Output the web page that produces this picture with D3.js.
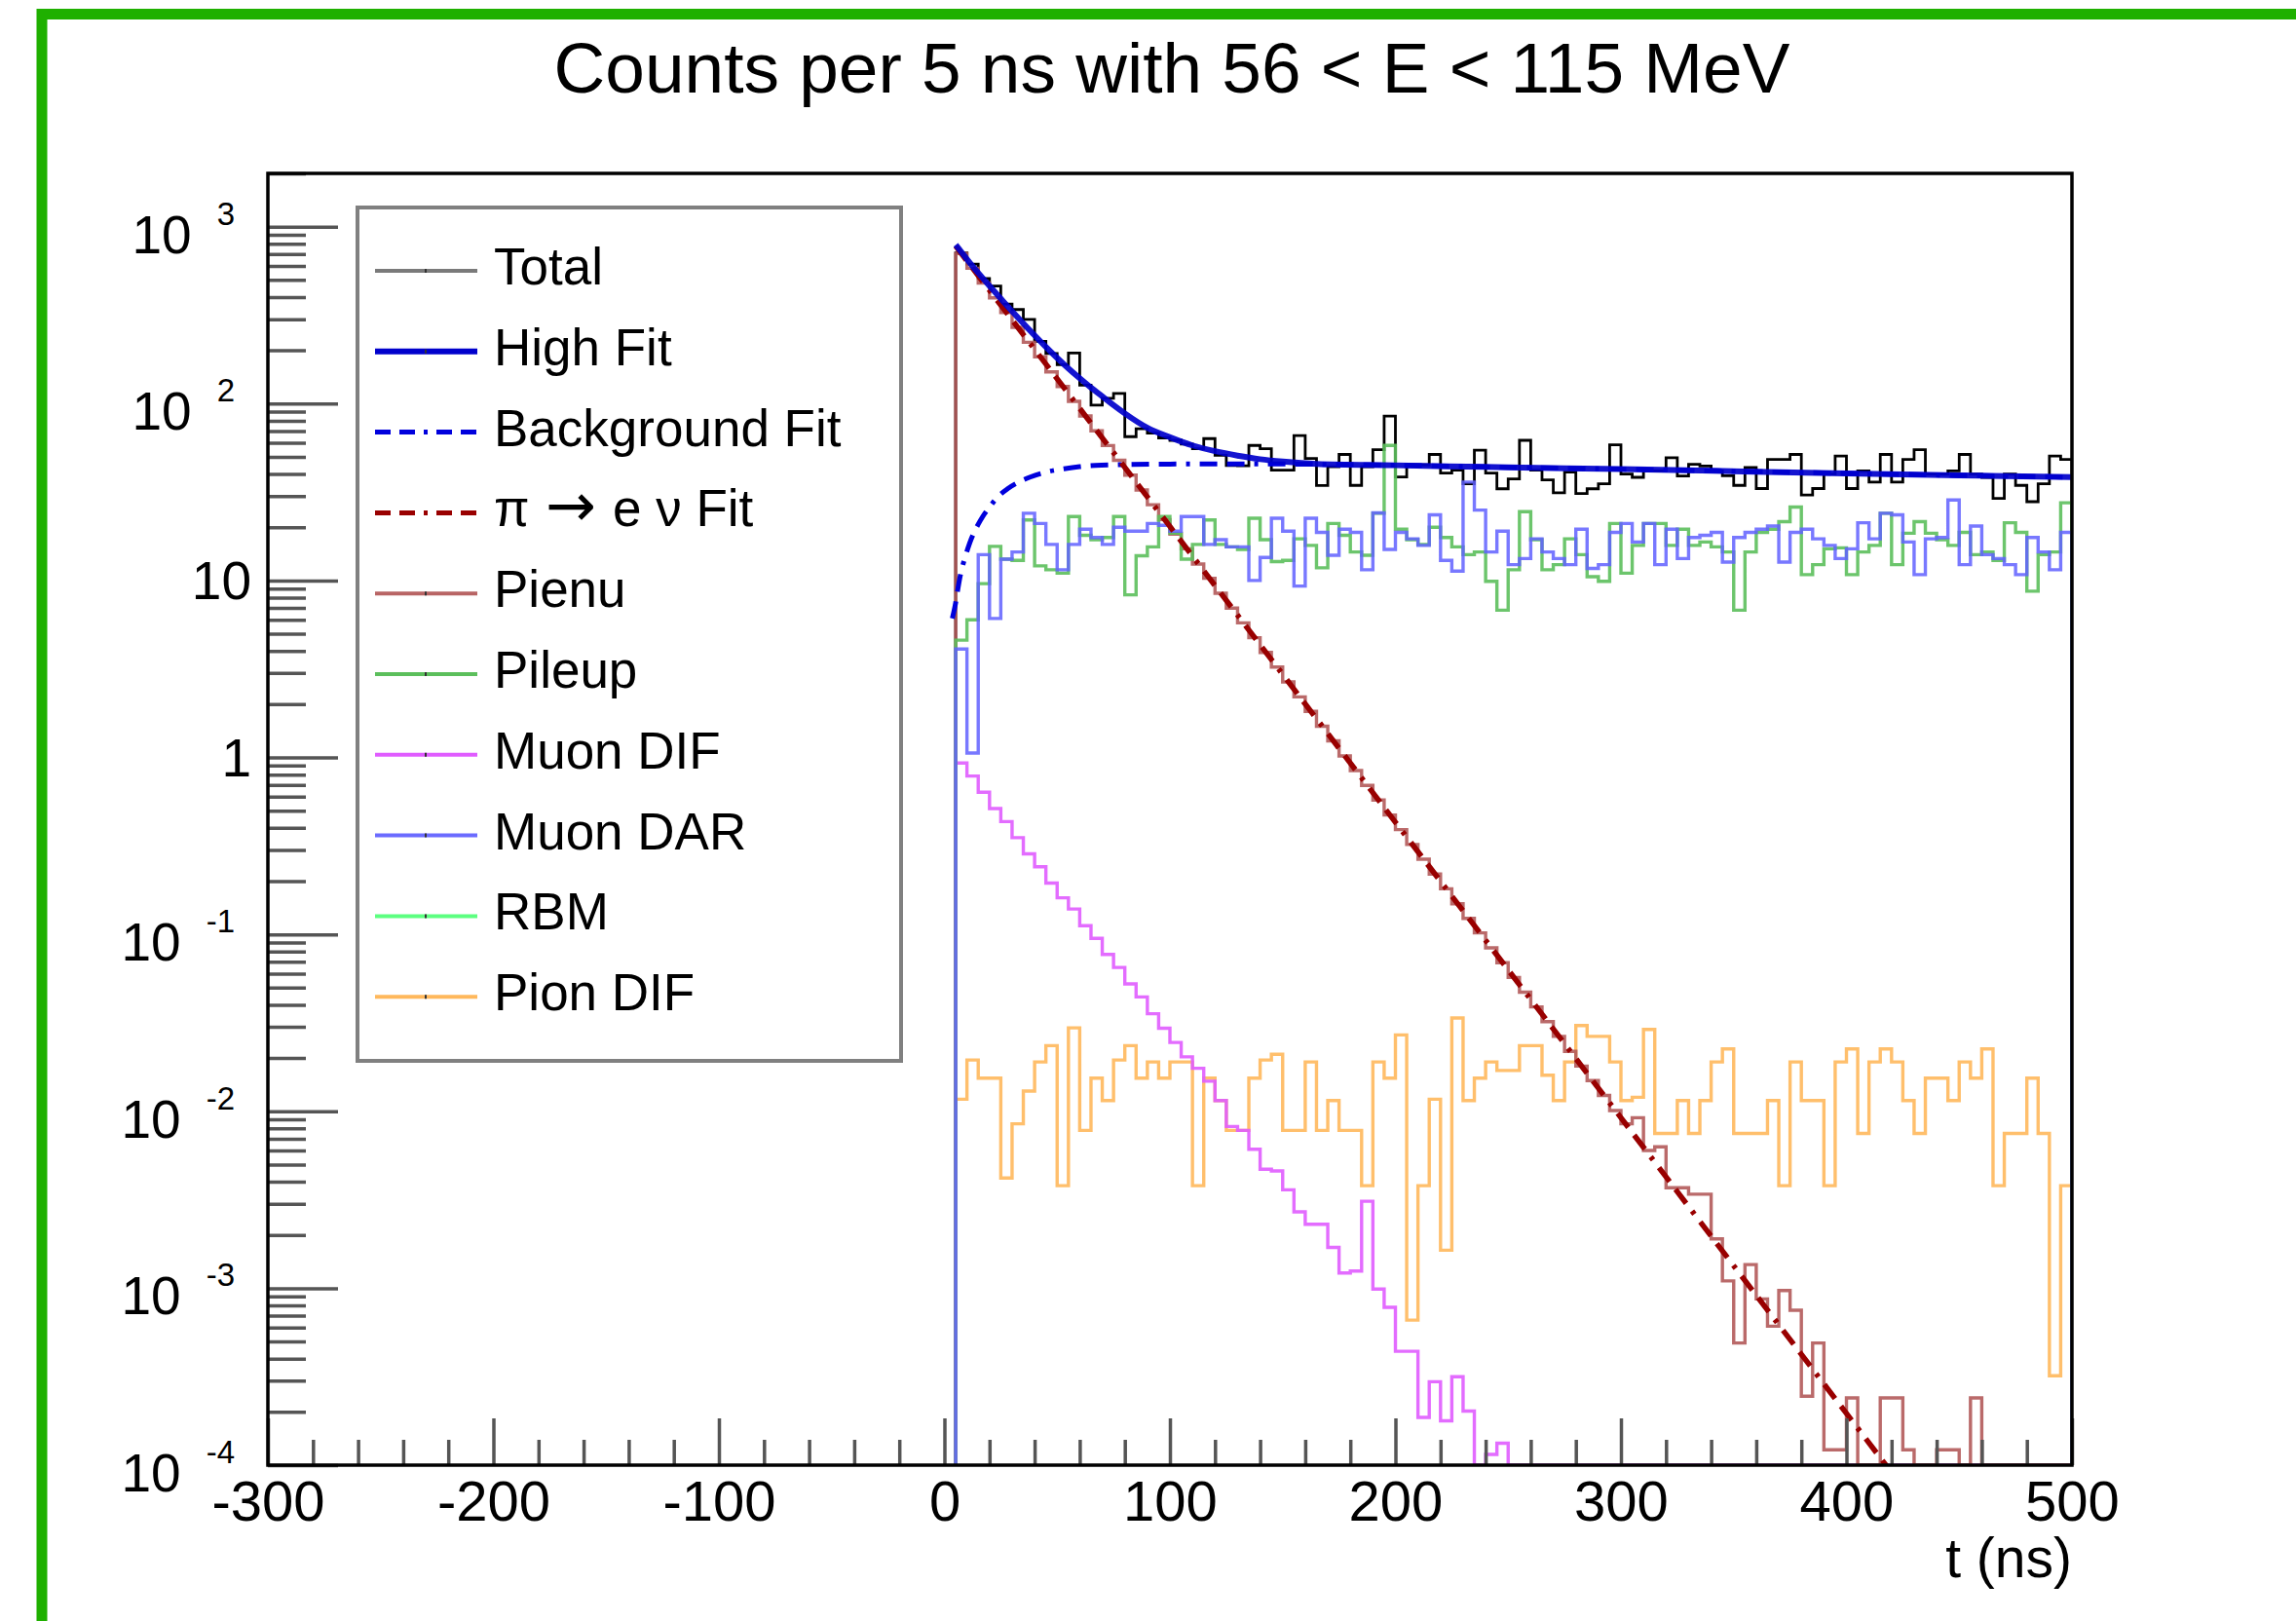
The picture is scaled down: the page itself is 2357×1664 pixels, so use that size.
<!DOCTYPE html>
<html>
<head>
<meta charset="utf-8">
<script src="https://cdn.jsdelivr.net/npm/d3@7/dist/d3.min.js"></script>
<style>
html,body{margin:0;padding:0;background:#ffffff;}
svg{display:block;}
text{font-family:"Liberation Sans",Arial,Helvetica,sans-serif;fill:#000;}
</style>
</head>
<body>
<svg id="chart" width="2357" height="1664"></svg>
<script>
// ---------------- data ----------------
const titleText = "Counts per 5 ns with 56 < E < 115 MeV";
const xAxisTitle = "t (ns)";
const binWidth = 5;
const binLow = d3.range(5, 500, 5);          // lower edges of the 5 ns bins, 5 ... 495
const xMajorTicks = [-300, -200, -100, 0, 100, 200, 300, 400, 500];
const yDecades = [-4, -3, -2, -1, 0, 1, 2, 3];

const totalCounts = [
 710,614,510,462,365,340,299,225,192,166,
 193,127,98,107,114,65,72,68,64,62,
 59,55.6,63.4,51,44.7,44.5,58,55.6,42,42,
 66,49,34.4,44,51.6,34.5,44,54.9,85,38.5,
 45,45,51.6,40.5,42,35.2,54.5,40.5,33,37.5,
 62,42,37,31.3,41,31,33,35.2,58.5,40,
 38.3,41.7,41.7,49.4,39,45.4,44.4,41.7,39.1,34.5,
 43.5,33.1,48.4,48.4,51.6,30.4,33.1,40,50.5,33.1,
 41.7,36,51.6,36,48.4,54.9,40,40,41.7,51.6,
 40,38.3,29.1,40,34.5,27.9,35.2,50.5,48.4];

const pileupCounts = [
 4.6,6.0,9.6,15.6,13.2,13.0,22,12.1,11.5,11.0,
 23,18,17,17.5,23,8.3,13.8,15.5,23,18.5,
 13.2,16,22,16,15.5,15,22.5,17,12.8,13,
 17.2,15.8,11.8,21,18,14.5,13.9,24,58,19.5,
 17,16,20,17.5,15.5,14,14.5,9.9,6.8,11.5,
 24.5,17,11.5,12.3,17.2,14,10.5,9.9,21,11,
 15.8,21,21,15.8,19.5,15.8,16.5,15.5,14.5,6.8,
 14.5,18.7,19.5,21.5,26,10.8,12.3,15.1,15.3,10.8,
 14.5,15.8,24,12.3,18.5,21.5,18.5,17,15.8,18.7,
 14,14.5,13,21.2,18.7,8.7,14,14.5,27.5];

const muonDARCounts = [
 4.1,1.06,14,6.1,13.2,14.5,24,21,16,11.5,
 16,19.5,17.5,16,20,19,19,21,20.5,19,
 23,23,16,17,15.5,15.5,10,13.5,22.5,19,
 9.3,22.5,18.7,13.9,19.5,18.7,11.5,24.1,15,18.7,
 17.2,15.8,23.5,13,11.3,36,25,14.5,19,12.3,
 13.3,17.2,14.5,13.3,12.3,19.5,11.7,12.3,18.7,21,
 16.5,21,12.3,19.5,13.3,17.5,18,18.7,12.7,17.5,
 18.7,19.5,20.3,12.7,18.7,19.5,17.2,15.8,13.3,15.1,
 21.2,17.2,24,23.5,16.5,10.8,17.2,17.5,28.5,12.3,
 20.3,14,13.3,12.3,10.8,17.5,14.5,11.5,18.7];

const muonDIFCounts = [
 0.93,0.785,0.636,0.514,0.434,0.352,0.285,0.241,0.195,0.161,
 0.139,0.112,0.095,0.077,0.065,0.0525,0.0443,0.0356,0.0295,0.0245,
 0.0203,0.0175,0.0148,0.0115,0.0082,0.0078,0.0061,0.0047,0.0046,0.0036,
 0.0027,0.0023,0.0023,0.0017,0.00122,0.00125,0.0031,0.00099,0.00078,0.00044,
 0.00044,0.000186,0.000296,0.000178,0.000316,0.000202,0,0.000115,0.000133,0,
 0,0,0,0,0,0,0,0,0,0,
 0,0,0,0,0,0,0,0,0,0,
 0,0,0,0,0,0,0,0,0,0,
 0,0,0,0,0,0,0,0,0,0,
 0,0,0,0,0,0,0,0,0];

const pienuCounts = [
 705,582,480,396,327,270,222,184,151,125,
 103,85.1,70.2,57.9,47.8,39.4,32.5,26.8,22.1,18.3,
 15.1,12.4,10.3,8.47,6.98,5.76,4.75,3.92,3.24,2.67,
 2.20,1.82,1.50,1.24,1.02,0.843,0.695,0.574,0.473,0.391,
 0.322,0.266,0.219,0.181,0.149,0.123,0.102,0.0839,0.0692,0.0571,
 0.0471,0.0389,0.0321,0.0265,0.0218,0.0180,0.0149,0.0123,0.0101,0.0085,
 0.0092,0.0060,0.0063,0.0037,0.0037,0.0034,0.0034,0.0019,0.0011,0.00049,
 0.00136,0.00087,0.00061,0.00097,0.00075,0.000245,0.00049,0.000122,0.000122,0.00024,
 0,0,0.00024,0.00024,0.000122,0,0,0.000122,0.000122,0,
 0.00024,0,0,0,0,0,0,0,0];

const pionDIFCounts = [
 0.0117,0.0195,0.0154,0.0154,0.0042,0.0085,0.013,0.019,0.0235,0.0038,
 0.0296,0.0078,0.0154,0.0115,0.0195,0.0235,0.0154,0.019,0.0154,0.019,
 0.019,0.0038,0.0154,0.0115,0.0078,0.0078,0.0154,0.0195,0.021,0.0078,
 0.0078,0.019,0.0078,0.0115,0.0078,0.0078,0.0038,0.019,0.0154,0.027,
 0.00066,0.0038,0.0117,0.00164,0.0337,0.0115,0.0154,0.019,0.017,0.017,
 0.0235,0.0235,0.016,0.0115,0.019,0.0305,0.0265,0.0265,0.019,0.0115,
 0.012,0.029,0.0075,0.0075,0.0115,0.0075,0.0115,0.019,0.0225,0.0075,
 0.0075,0.0075,0.0115,0.0038,0.019,0.0115,0.0115,0.0038,0.019,0.0225,
 0.0075,0.019,0.0225,0.019,0.0115,0.0075,0.0154,0.0154,0.0115,0.019,
 0.0154,0.0225,0.0038,0.0075,0.0075,0.0154,0.0075,0.00032,0.0038];

const rbmCounts = [];   // no RBM entries are visible in the plotted range

const highFitT = [5,7.5,10,12.5,15,17.5,20,25,30,35,40,45,50,55,60,65,70,75,80,90,100,110,120,130,140,150,165,200,250,300,336,400,450,500];
const highFitV = [790,720,655,598,548,503,462,392,333,284,243,209,181,158,139,123,110,98,88,73,64.5,58,53.8,50.8,48.5,47,45.6,44.8,43.6,42.6,41.8,40.3,39.3,38.4];

const bkgFitT = [3.5,5,6,7,8,9,11,13,15,17,20,24,28,33,38,45,53,60,67,80,100,130,165,200,250,300,336,400,450,500];
const bkgFitV = [6.1,7.5,9,10.6,12,13.3,16,18.5,20.8,23,26,30,33,36,38.4,41,42.8,44,44.7,45.2,45.5,45.6,45.4,44.8,43.6,42.6,41.8,40.3,39.3,38.4];

const pienuFitT = [5,50,100,150,200,250,300,350,400,425];
const pienuFitV = [776,138,20.2,2.95,0.43,0.063,0.0092,0.00134,0.000196,0.000075];

const legendLabels = ["Total","High Fit","Background Fit","π → e ν Fit","Pienu","Pileup","Muon DIF","Muon DAR","RBM","Pion DIF"];

// ---------------- drawing ----------------
const svg = d3.select("#chart");
svg.append("rect").attr("width",2357).attr("height",1664).attr("fill","#ffffff");
svg.append("rect").attr("x",43).attr("y",14.5).attr("width",2600).attr("height",1900)
   .attr("fill","none").attr("stroke","#1fb000").attr("stroke-width",11);

const plot = {left:275, right:2127, top:178, bottom:1504};
const yMin = 1e-4, yMax = 2000;
const x = d3.scaleLinear().domain([-300,500]).range([plot.left, plot.right]);
const y = d3.scaleLog().domain([yMin,yMax]).range([plot.bottom, plot.top]);

svg.append("text").attr("x",1203).attr("y",95).attr("text-anchor","middle")
   .attr("font-size",73).text(titleText);

svg.append("defs").append("clipPath").attr("id","clip").append("rect")
   .attr("x",plot.left).attr("y",plot.top)
   .attr("width",plot.right-plot.left).attr("height",plot.bottom-plot.top);
const gData = svg.append("g").attr("clip-path","url(#clip)");

function histPoints(vals){
  if(!vals.length) return [];
  const pts = [[binLow[0], yMin]];
  vals.forEach((v,i)=>{
    const vv = v > 0 ? v : yMin;
    pts.push([binLow[i], vv]);
    pts.push([binLow[i]+binWidth, vv]);
  });
  pts.push([binLow[vals.length-1]+binWidth, yMin]);
  return pts;
}
const histLine = d3.line().x(d=>x(d[0])).y(d=>y(Math.max(d[1],yMin)));
const smoothLine = d3.line().x(d=>x(d[0])).y(d=>y(d[1])).curve(d3.curveMonotoneX);
const straightLine = d3.line().x(d=>x(d[0])).y(d=>y(d[1]));

const histSeries = [
  {vals: totalCounts,    color:"#000000", w:2.8, op:1},
  {vals: pionDIFCounts,  color:"#ffb85c", w:3.4, op:0.9},
  {vals: muonDIFCounts,  color:"#e05cff", w:3.4, op:0.9},
  {vals: pienuCounts,    color:"#b35a5a", w:3.4, op:0.9},
  {vals: pileupCounts,   color:"#5cbf5c", w:3.4, op:0.9},
  {vals: muonDARCounts,  color:"#6060ff", w:3.4, op:0.85},
  {vals: rbmCounts,      color:"#5cff80", w:3.4, op:0.9}
];
histSeries.forEach(s=>{
  const pts = histPoints(s.vals);
  if(!pts.length) return;
  gData.append("path").attr("d",histLine(pts)).attr("fill","none")
    .attr("stroke",s.color).attr("stroke-width",s.w).attr("stroke-opacity",s.op);
});

const dashPattern = "18,10,18,10,4,10";
gData.append("path").attr("d",smoothLine(bkgFitT.map((t,i)=>[t,bkgFitV[i]])))
  .attr("fill","none").attr("stroke","#0000dd").attr("stroke-width",5).attr("stroke-dasharray",dashPattern);
gData.append("path").attr("d",straightLine(pienuFitT.map((t,i)=>[t,pienuFitV[i]])))
  .attr("fill","none").attr("stroke","#990000").attr("stroke-width",5.5).attr("stroke-dasharray",dashPattern);
gData.append("path").attr("d",smoothLine(highFitT.map((t,i)=>[t,highFitV[i]])))
  .attr("fill","none").attr("stroke","#0000cc").attr("stroke-width",6).attr("stroke-opacity",0.92);

// ---------------- axes ----------------
const tickStyle = g => {
  g.select(".domain").remove();
  g.selectAll(".tick line").attr("stroke","#555").attr("stroke-width",3.5);
};
const yMajorVals = yDecades.map(e=>Math.pow(10,e));
const yMinorVals = [];
yDecades.forEach(e=>{ for(let k=2;k<=9;k++){ const v=k*Math.pow(10,e); if(v<=yMax*1.0001) yMinorVals.push(v);} });
const xMinorVals = d3.range(-280,500,20).filter(v=>v%100!==0);

svg.append("g").attr("transform",`translate(${plot.left},0)`)
  .call(d3.axisLeft(y).tickValues(yMinorVals).tickSize(-39).tickFormat("")).call(tickStyle);
svg.append("g").attr("transform",`translate(${plot.left},0)`)
  .call(d3.axisLeft(y).tickValues(yMajorVals).tickSize(-72).tickFormat("")).call(tickStyle);
svg.append("g").attr("transform",`translate(0,${plot.bottom})`)
  .call(d3.axisBottom(x).tickValues(xMinorVals).tickSize(-26).tickFormat("")).call(tickStyle);
const gx = svg.append("g").attr("transform",`translate(0,${plot.bottom})`)
  .call(d3.axisBottom(x).tickValues(xMajorTicks).tickSize(-48).tickPadding(16).tickFormat(d=>String(d)))
  .call(tickStyle);
gx.selectAll(".tick text").attr("font-size",58).attr("fill","#000")
  .style("font-family",'"Liberation Sans",Arial,Helvetica,sans-serif');

// y labels (10^n)
const gyl = svg.append("g");
yDecades.forEach(e=>{
  const ty = y(Math.pow(10,e));
  if(e===0 || e===1){
    gyl.append("text").attr("x",258).attr("y",ty+19).attr("text-anchor","end")
      .attr("font-size",55).text(e===0?"1":"10");
  } else {
    const ex = gyl.append("text").attr("x",241).attr("y",ty-2).attr("text-anchor","end")
      .attr("font-size",33).text(String(e));
    const w = ex.node().getComputedTextLength();
    gyl.append("text").attr("x",241-w-26).attr("y",ty+27).attr("text-anchor","end")
      .attr("font-size",55).text("10");
  }
});

svg.append("text").attr("x",plot.right).attr("y",1619).attr("text-anchor","end")
  .attr("font-size",57).text(xAxisTitle);

// frame
svg.append("rect").attr("x",plot.left).attr("y",plot.top)
  .attr("width",plot.right-plot.left).attr("height",plot.bottom-plot.top)
  .attr("fill","none").attr("stroke","#000").attr("stroke-width",3.5);

// ---------------- legend ----------------
const legendStyles = [
  {color:"#7a7a7a", w:4},
  {color:"#0000cc", w:6},
  {color:"#0000dd", w:5, dash:"16,9,16,9,4,9"},
  {color:"#990000", w:5, dash:"16,9,16,9,4,9"},
  {color:"#b86464", w:4},
  {color:"#5cbf5c", w:4},
  {color:"#e05cff", w:4},
  {color:"#6b6bff", w:4},
  {color:"#5cff80", w:4},
  {color:"#ffb85c", w:4}
];
const lg = svg.append("g");
lg.append("rect").attr("x",367).attr("y",213).attr("width",558).attr("height",876)
  .attr("fill","#fff").attr("stroke","#808080").attr("stroke-width",4);
legendLabels.forEach((lab,i)=>{
  const ry = 278 + i*82.8;
  const st = legendStyles[i];
  const ln = lg.append("line").attr("x1",385).attr("x2",490).attr("y1",ry).attr("y2",ry)
    .attr("stroke",st.color).attr("stroke-width",st.w);
  if(st.dash) ln.attr("stroke-dasharray",st.dash);
  if(!st.dash) lg.append("line").attr("x1",437).attr("x2",437).attr("y1",ry-2).attr("y2",ry+2)
    .attr("stroke","#333").attr("stroke-width",2);
  if(lab.indexOf("→") >= 0){
    const parts = lab.split("→").map(s=>s.trim());
    lg.append("text").attr("x",507).attr("y",ry+14).attr("font-size",53).text(parts[0]);
    lg.append("text").attr("x",560).attr("y",ry+14).attr("font-size",62)
      .style("font-family","'DejaVu Sans',sans-serif").text("→");
    lg.append("text").attr("x",629).attr("y",ry+14).attr("font-size",53).text(parts[1]);
  } else {
    lg.append("text").attr("x",507).attr("y",ry+14).attr("font-size",53).text(lab);
  }
});
</script>
</body>
</html>
